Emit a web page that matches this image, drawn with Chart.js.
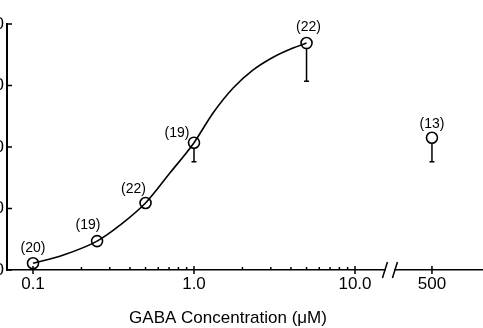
<!DOCTYPE html>
<html>
<head>
<meta charset="utf-8">
<script src="https://cdn.jsdelivr.net/npm/chart.js@4"></script>
<style>
  html, body { margin: 0; padding: 0; background: #fff; }
  #wrap { position: relative; width: 483px; height: 328px; }
</style>
</head>
<body>
<div id="wrap"><canvas id="chart" width="483" height="328"></canvas></div>
<script>
// GABA dose-response, values
const concentrations = [0.1, 0.25, 0.5, 1.0, 5.0];
const responses = [1.1, 4.7, 10.9, 20.7, 36.9];
const responseLow = [1.1, 4.7, 10.9, 17.6, 30.7];   // lower end of error bar
const cellCounts = ['(20)', '(19)', '(22)', '(19)', '(22)'];

// point drawn past the axis break
const highConc = [500];
const highResponse = [21.5];
const highLow = [17.6];
const highCounts = ['(13)'];

// the hand-drawn fitted curve, traced along its length
const curveConc = [0.1, 0.153, 0.25, 0.347, 0.5, 0.71, 1.0, 1.31, 1.75, 2.32, 3.10, 4.12, 5.0];
const curveResp = [1.1, 2.4, 4.7, 7.3, 10.9, 15.8, 20.7, 25.5, 29.6, 32.5, 34.6, 36.1, 36.9];

const xTickValues = [0.1, 1.0, 10.0, 500];
const xTickLabels = ['0.1', '1.0', '10.0', '500'];
const yTickValues = [0, 10, 20, 30, 40];
const yTickLabels = ['0', '10', '20', '30', '40'];

// label placement relative to each circle (px)
const countOffsets = [[0, -15], [-9, -16], [-12, -14], [-17, -10], [2, -16]];
const highCountOffsets = [[0, -14]];

const FONT = "'Liberation Sans', Arial, sans-serif";
const BREAK_SHIFT = 1.221;   // log units skipped at the axis break
const BREAK_POS = 1.217;

// position along x: log10 before the break, shifted after it
function pos(c) {
  return c > 10 ? Math.log10(c) - BREAK_SHIFT : Math.log10(c);
}

const minorTicks = [];
for (let d = -1; d <= 0; d++) {
  for (let m = 2; m <= 9; m++) minorTicks.push(Math.log10(m) + d);
}

const decorations = {
  id: 'decorations',
  beforeDatasetsDraw(chart) {
    const ctx = chart.ctx;
    const y = chart.scales.y;
    ctx.save();
    ctx.strokeStyle = '#000';
    ctx.lineWidth = 1.5;
    const bars = (meta, vals, lows) => {
      meta.data.forEach((el, i) => {
        if (lows[i] >= vals[i]) return;
        const yl = y.getPixelForValue(lows[i]);
        ctx.beginPath();
        ctx.moveTo(el.x, el.y);
        ctx.lineTo(el.x, yl);
        ctx.moveTo(el.x - 2.5, yl);
        ctx.lineTo(el.x + 2.5, yl);
        ctx.stroke();
      });
    };
    bars(chart.getDatasetMeta(1), responses, responseLow);
    bars(chart.getDatasetMeta(2), highResponse, highLow);
    ctx.restore();
  },
  afterDatasetsDraw(chart) {
    const ctx = chart.ctx;
    ctx.save();
    ctx.fillStyle = '#000';
    ctx.font = '14px ' + FONT;
    ctx.textAlign = 'center';
    ctx.textBaseline = 'middle';
    chart.getDatasetMeta(1).data.forEach((el, i) => {
      ctx.fillText(cellCounts[i], el.x + countOffsets[i][0], el.y + countOffsets[i][1]);
    });
    chart.getDatasetMeta(2).data.forEach((el, i) => {
      ctx.fillText(highCounts[i], el.x + highCountOffsets[i][0], el.y + highCountOffsets[i][1]);
    });
    ctx.restore();
  },
  afterDraw(chart) {
    const ctx = chart.ctx;
    const x = chart.scales.x;
    const y = chart.scales.y;
    const area = chart.chartArea;
    ctx.save();
    ctx.strokeStyle = '#000';
    ctx.lineWidth = 1.5;
    ctx.beginPath();
    // y ticks, pointing inward
    yTickValues.forEach(v => {
      const py = y.getPixelForValue(v);
      ctx.moveTo(area.left, py);
      ctx.lineTo(area.left + 5, py);
    });
    // major x ticks cross the axis
    xTickValues.forEach(v => {
      const px = x.getPixelForValue(pos(v));
      ctx.moveTo(px, area.bottom - 4);
      ctx.lineTo(px, area.bottom + 4);
    });
    // minor x ticks, inward
    minorTicks.forEach(v => {
      const px = x.getPixelForValue(v);
      ctx.moveTo(px, area.bottom);
      ctx.lineTo(px, area.bottom - 3);
    });
    ctx.stroke();

    // axis break
    const bx = x.getPixelForValue(BREAK_POS);
    ctx.fillStyle = '#fff';
    ctx.fillRect(bx - 4, area.bottom - 3, 8, 6);
    ctx.beginPath();
    [-5, 5].forEach(dx => {
      ctx.moveTo(bx + dx - 2.5, area.bottom + 8);
      ctx.lineTo(bx + dx + 2.5, area.bottom - 8);
    });
    ctx.stroke();

    // axis title
    ctx.fillStyle = '#000';
    ctx.font = '17px ' + FONT;
    ctx.textAlign = 'center';
    ctx.textBaseline = 'middle';
    ctx.fillText('GABA Concentration (\u03bcM)', 228, 318);
    ctx.restore();
  }
};

const circleStyle = {
  pointRadius: 5.5,
  pointBackgroundColor: '#fff',
  pointBorderColor: '#000',
  pointBorderWidth: 1.6,
  showLine: false,
};

new Chart(document.getElementById('chart'), {
  type: 'scatter',
  plugins: [decorations],
  data: {
    datasets: [
      {
        data: curveConc.map((c, i) => ({ x: pos(c), y: curveResp[i] })),
        showLine: true,
        cubicInterpolationMode: 'monotone',
        borderColor: '#000',
        borderWidth: 1.6,
        pointRadius: 0,
      },
      {
        data: concentrations.map((c, i) => ({ x: pos(c), y: responses[i] })),
        ...circleStyle,
      },
      {
        data: highConc.map((c, i) => ({ x: pos(c), y: highResponse[i] })),
        ...circleStyle,
      },
    ],
  },
  options: {
    responsive: false,
    animation: false,
    layout: { autoPadding: false, padding: { top: 24, right: 0, left: 0, bottom: 0 } },
    plugins: {
      legend: { display: false },
      tooltip: { enabled: false },
    },
    scales: {
      x: {
        type: 'linear',
        min: -1.1615,
        max: 1.795,
        grid: { display: false, drawTicks: false },
        border: { display: true, color: '#000', width: 1.5 },
        afterBuildTicks: (scale) => {
          scale.ticks = xTickValues.map(v => ({ value: pos(v) }));
        },
        afterFit: (scale) => {
          scale.height = 58;
          scale.paddingLeft = 0;
          scale.paddingRight = 0;
        },
        ticks: {
          autoSkip: false,
          maxRotation: 0,
          padding: 4,
          color: '#000',
          font: { size: 17, family: FONT },
          callback: (val, idx) => xTickLabels[idx],
        },
      },
      y: {
        min: 0,
        max: 40,
        grid: { display: false, drawTicks: false },
        border: { display: true, color: '#000', width: 2 },
        afterBuildTicks: (scale) => {
          scale.ticks = yTickValues.map(v => ({ value: v }));
        },
        afterFit: (scale) => {
          scale.width = 7;
        },
        ticks: {
          padding: 3,
          color: '#000',
          font: { size: 17, family: FONT },
          callback: (val, idx) => yTickLabels[idx],
        },
      },
    },
  },
});
</script>
</body>
</html>
